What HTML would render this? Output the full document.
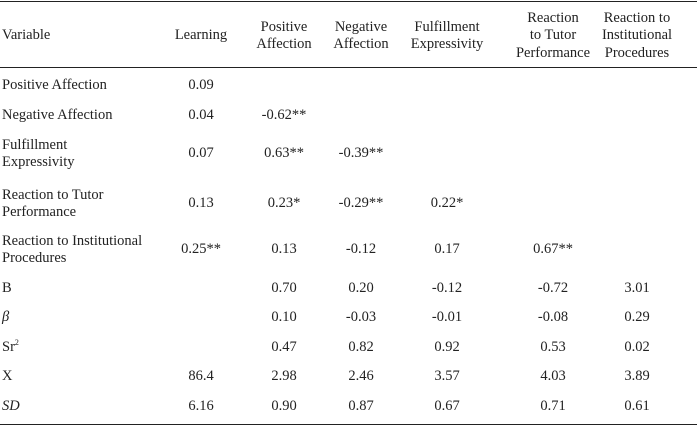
<!DOCTYPE html>
<html><head><meta charset="utf-8"><style>
body{margin:0;background:#fff;}
#t{position:relative;width:697px;height:428px;font-family:"Liberation Serif","Times New Roman",Times,serif;font-size:14.5px;color:#222;overflow:hidden;}
.c{position:absolute;white-space:nowrap;line-height:17.5px;}
.r{position:absolute;left:0;width:697px;height:1px;background:#222;}
sup{font-size:8px;line-height:0;vertical-align:6px;}
</style></head><body>
<div id="t">
<div class="r" style="top:1px"></div>
<div class="r" style="top:67px"></div>
<div class="r" style="top:424px"></div>
</div>
<script>
const colCenters=[201,284,361,447,553,637];
const headers=[["Learning"],["Positive","Affection"],["Negative","Affection"],["Fulfillment","Expressivity"],["Reaction","to Tutor","Performance"],["Reaction to","Institutional","Procedures"]];
const rowLabels=[["Positive Affection"],["Negative Affection"],["Fulfillment","Expressivity"],["Reaction to Tutor","Performance"],["Reaction to Institutional","Procedures"],["B"],["β"],["Sr<sup>2</sup>"],["X"],["SD"]];
const rowY=[84,114,152,202,248,287,316,346,375,405];
const values=[
["0.09","","","","",""],
["0.04","-0.62**","","","",""],
["0.07","0.63**","-0.39**","","",""],
["0.13","0.23*","-0.29**","0.22*","",""],
["0.25**","0.13","-0.12","0.17","0.67**",""],
["","0.70","0.20","-0.12","-0.72","3.01"],
["","0.10","-0.03","-0.01","-0.08","0.29"],
["","0.47","0.82","0.92","0.53","0.02"],
["86.4","2.98","2.46","3.57","4.03","3.89"],
["6.16","0.90","0.87","0.67","0.71","0.61"]];
const t=document.getElementById('t');
function add(html,x,y,center,name,lines){
 const d=document.createElement('div');d.className='c';d.innerHTML=html;
 d.style.top=(y+2-lines*17.5/2)+'px';
 d.style.left=x+'px';
 if(center){d.style.transform='translateX(-50%)';d.style.textAlign='center';}
 
 
 t.appendChild(d);return d;}
add("Variable",2,34,false,'header-variable',1);
headers.forEach((h,i)=>{add(h.join('<br>'),colCenters[i],34,true,'header-'+i,h.length);});
rowLabels.forEach((l,i)=>{
 const d=add(l.join('<br>'),2,rowY[i],false,'row-label-'+i,l.length);
 if(i==6||i==9)d.style.fontStyle='italic';
});
values.forEach((row,i)=>row.forEach((v,j)=>{if(v)add(v,colCenters[j],rowY[i],true,'cell-'+i+'-'+j,1);}));
</script>
</body></html>
